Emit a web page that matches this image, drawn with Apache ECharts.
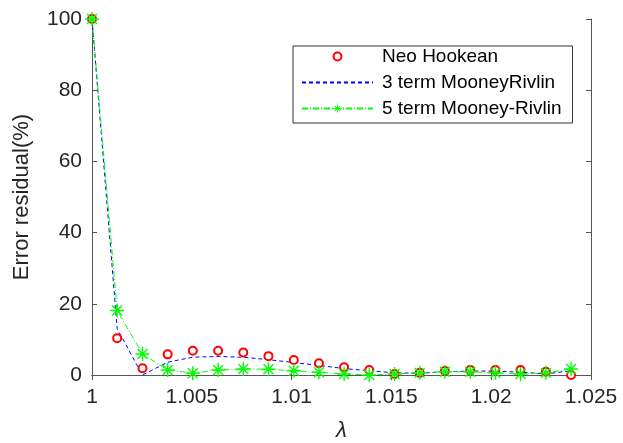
<!DOCTYPE html>
<html>
<head>
<meta charset="utf-8">
<script src="https://cdn.jsdelivr.net/npm/echarts@6/dist/echarts.min.js"></script>
<style>
html, body { margin: 0; padding: 0; background: #fff; }
#char { width: 623px; height: 443px; }
</style>
</head>
<body>
<div id="char"></div>
<script>
// lambda values (stretch)
var lambda = [1, 1.00126, 1.00253, 1.00379, 1.00505, 1.00632, 1.00758, 1.00884, 1.01011, 1.01137,
    1.01263, 1.01389, 1.01516, 1.01642, 1.01768, 1.01895, 1.02021, 1.02147, 1.02274, 1.024];
var neoHookean = [100, 10.3, 1.9, 5.8, 6.8, 6.8, 6.3, 5.3, 4.2, 3.3,
    2.2, 1.4, 0.3, 0.6, 1.1, 1.4, 1.4, 1.4, 0.9, 0];
var mooney3 = [100, 13, 0, 3.6, 5.0, 5.2, 5.0, 4.3, 3.5, 2.7,
    1.8, 1.2, 0.6, 0.5, 0.9, 1.1, 1.1, 0.8, 0.3, 1.2];
var mooney5 = [100, 18.1, 5.9, 1.4, 0.5, 1.4, 1.7, 1.6, 1.2, 0.75,
    0.3, 0, 0.3, 0.6, 0.9, 0.9, 0.6, 0.3, 0.6, 1.7];
var seriesNames = ['Neo Hookean', '3 term MooneyRivlin', '5 term Mooney-Rivlin'];

function pairs(ys) {
    var out = [];
    for (var i = 0; i < ys.length; i++) {
        out.push([lambda[i], ys[i]]);
    }
    return out;
}

// asterisk marker like matlab '*'
var starPath = 'path://M9,0 L11,0 L11,20 L9,20 Z M0,9 L20,9 L20,11 L0,11 Z ' +
    'M2.2,3.6 L3.6,2.2 L17.8,16.4 L16.4,17.8 Z M16.4,2.2 L17.8,3.6 L3.6,17.8 L2.2,16.4 Z';

var dom = document.getElementById("char");
var myChart = echarts.init(dom);
var axisGray = '#262626';
var option = {
    animation: false,
    grid: { left: 92, right: 32, top: 19, bottom: 68, outerBoundsMode: 'none', containLabel: false },
    legend: {
        orient: 'vertical',
        left: 293,
        top: 46,
        padding: [1, 11, 5, 8],
        borderColor: '#333',
        borderWidth: 1,
        itemWidth: 71,
        itemHeight: 10,
        itemGap: 7,
        data: [
            { name: seriesNames[0] },
            { name: seriesNames[1], itemStyle: { opacity: 0 } },
            { name: seriesNames[2] }
        ],
        textStyle: { fontFamily: 'Liberation Sans', fontSize: 19, color: '#000', padding: [0, 0, 0, 4] }
    },
    xAxis: [{
        type: 'value',
        min: 1,
        max: 1.025,
        interval: 0.005,
        name: 'λ',
        nameLocation: 'middle',
        nameGap: 45,
        nameTextStyle: { fontFamily: 'Liberation Sans', fontStyle: 'italic', fontSize: 22, color: axisGray },
        axisLine: { lineStyle: { color: '#555' } },
        axisTick: { inside: true, length: 5, lineStyle: { color: '#555' } },
        axisLabel: { fontFamily: 'Liberation Sans', fontSize: 21, color: axisGray, margin: 12 },
        splitLine: { show: false }
    }, {
        type: 'value',
        position: 'top',
        min: 1,
        max: 1.025,
        interval: 0.005,
        axisLine: { show: true, lineStyle: { color: '#555' } },
        axisTick: { inside: true, length: 5, lineStyle: { color: '#555' } },
        axisLabel: { show: false },
        splitLine: { show: false }
    }],
    yAxis: [{
        type: 'value',
        min: 0,
        max: 100,
        interval: 20,
        name: 'Error residual(%)',
        nameLocation: 'middle',
        nameGap: 59,
        nameTextStyle: { fontFamily: 'Liberation Sans', fontSize: 22, color: axisGray },
        axisLine: { show: true, lineStyle: { color: '#555' } },
        axisTick: { show: true, inside: true, length: 5, lineStyle: { color: '#555' } },
        axisLabel: { fontFamily: 'Liberation Sans', fontSize: 21, color: axisGray, margin: 10 },
        splitLine: { show: false }
    }, {
        type: 'value',
        position: 'right',
        min: 0,
        max: 100,
        interval: 20,
        axisLine: { show: true, lineStyle: { color: '#555' } },
        axisTick: { show: true, inside: true, length: 5, lineStyle: { color: '#555' } },
        axisLabel: { show: false },
        splitLine: { show: false }
    }],
    series: [
        {
            name: seriesNames[0],
            type: 'line',
            data: pairs(neoHookean),
            symbol: 'emptyCircle',
            symbolSize: 8,
            showAllSymbol: true,
            lineStyle: { width: 0, opacity: 0 },
            itemStyle: { color: '#ff0000', borderColor: '#ff0000', borderWidth: 1 },
            z: 3
        },
        {
            name: seriesNames[1],
            type: 'line',
            data: pairs(mooney3),
            symbol: 'none',
            lineStyle: { color: '#0000ff', width: 1, type: [4, 3] },
            itemStyle: { color: '#0000ff' },
            z: 2
        },
        {
            name: seriesNames[2],
            type: 'line',
            data: pairs(mooney5),
            symbol: starPath,
            symbolSize: 14,
            showAllSymbol: true,
            lineStyle: { color: '#00ff00', width: 1, type: [6, 2, 1, 2] },
            itemStyle: { color: '#00ff00' },
            z: 4
        }
    ]
};
myChart.setOption(option);
</script>
</body>
</html>
